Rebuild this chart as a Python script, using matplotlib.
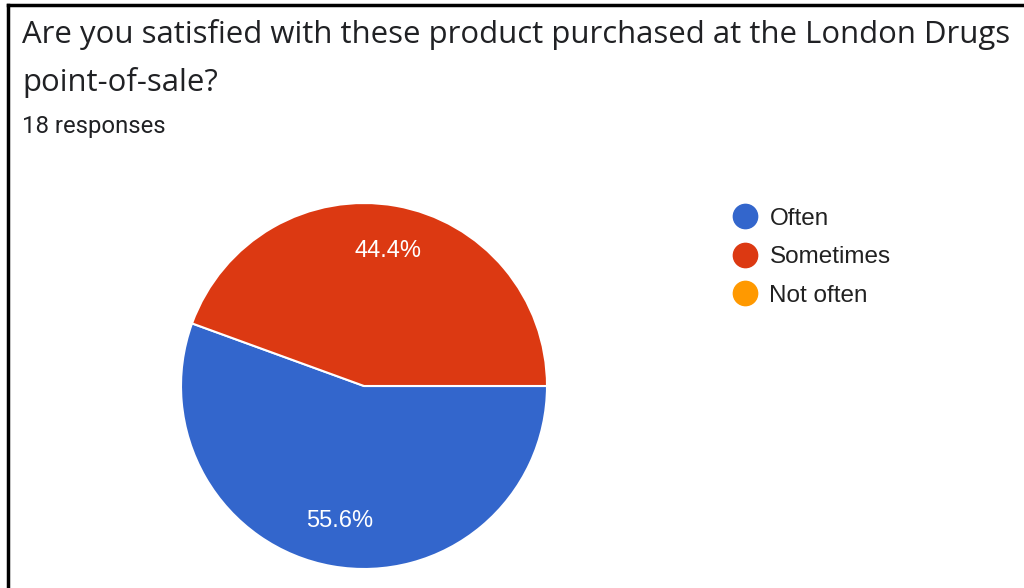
import matplotlib.pyplot as plt
from matplotlib.lines import Line2D

# survey answers
labels = ['Often', 'Sometimes', 'Not often']
counts = [10, 8, 0]
colors = ['#3366CC', '#DC3912', '#FF9900']

title_line1 = 'Are you satisfied with these product purchased at the London Drugs'
title_line2 = 'point-of-sale?'
subtitle = '18 responses'

W, H = 1024, 588
fig = plt.figure(figsize=(W / 100, H / 100), dpi=100)
fig.patch.set_facecolor('white')

# pie axes: centre at (364, 386) px, radius 183 px
r = 183
ax = fig.add_axes([(364 - r) / W, (H - 386 - r) / H, 2 * r / W, 2 * r / H])
vals = [c for c in counts if c > 0]
cols = [colors[i] for i, c in enumerate(counts) if c > 0]
wedges, texts, autotexts = ax.pie(
    vals, colors=cols, startangle=160, counterclock=True,
    autopct='%1.1f%%', pctdistance=0.75,
    wedgeprops=dict(edgecolor='white', linewidth=1.5),
    textprops=dict(color='white', fontsize=17, family='Liberation Sans'))
ax.set_xlim(-1, 1)
ax.set_ylim(-1, 1)
ax.set_aspect('equal')
ax.axis('off')

# titles
fig.text(22 / W, 1 - 35 / H, title_line1, fontsize=22.4, color='#202124',
         family='Open Sans', va='center', ha='left')
fig.text(22 / W, 1 - 82 / H, title_line2, fontsize=22.4, color='#202124',
         family='Open Sans', va='center', ha='left')
fig.text(22 / W, 1 - 126 / H, subtitle, fontsize=17.2, color='#202124',
         family='Roboto', va='center', ha='left')

# legend
handles = [Line2D([], [], marker='o', linestyle='none', markersize=17.5,
                  markerfacecolor=c, markeredgecolor=c) for c in colors]
fig.legend(handles, labels, loc='upper left',
           bbox_to_anchor=(705 / W, 1 - 186 / H), frameon=False,
           prop=dict(family='Liberation Sans', size=17.5), labelcolor='#212121',
           handletextpad=0.25, labelspacing=0.68, handlelength=1.5)

# black frame (left and top)
fig.add_artist(Line2D([8 / W, 8 / W], [0, 1 - 4.5 / H], color='black',
                      linewidth=2.5, transform=fig.transFigure))
fig.add_artist(Line2D([8 / W, 1], [1 - 4.5 / H, 1 - 4.5 / H], color='black',
                      linewidth=2.5, transform=fig.transFigure))

fig.savefig('out.png', dpi=100)
